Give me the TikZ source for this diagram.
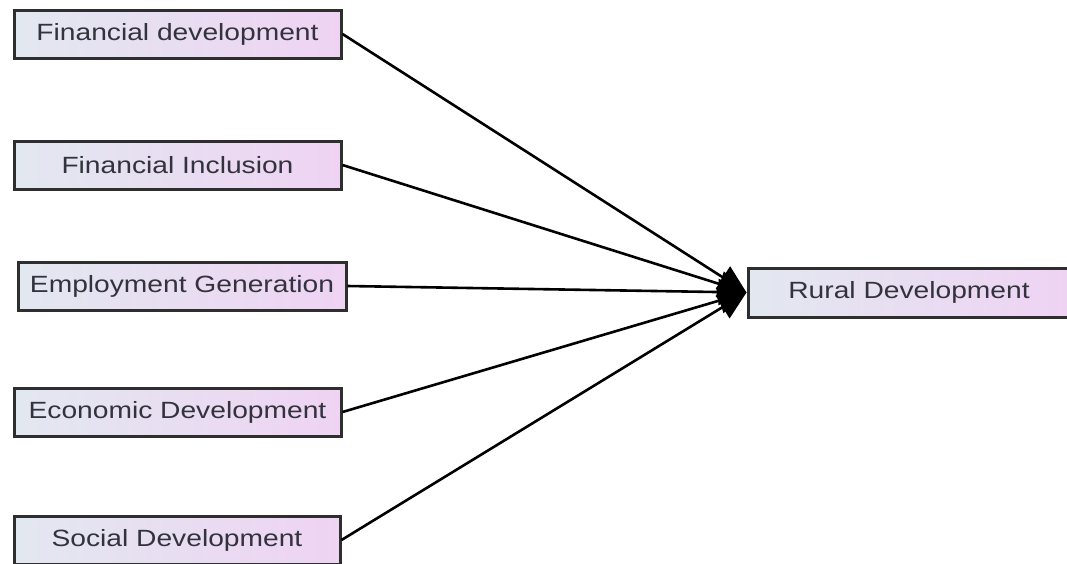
\documentclass[tikz,border=0pt]{standalone}
\usepackage{fontspec}
\usepackage{graphicx}
\setmainfont{Liberation Sans}
\usetikzlibrary{arrows.meta}
\definecolor{boxleft}{HTML}{E2E8F0}
\definecolor{boxright}{HTML}{EFD3F3}
\definecolor{boxline}{HTML}{2E2E2E}
\definecolor{txt}{HTML}{33333D}
\newcommand{\wtxt}[1]{\scalebox{1.2}[1]{#1}}
\tikzset{
  factor/.style={draw=boxline, line width=3pt, left color=boxleft, right color=boxright,
    minimum height=48pt, inner sep=0pt, text=txt, font=\fontsize{23.5}{26}\selectfont},
  link/.style={line width=2.6pt, draw=black, -{Triangle[length=28pt,width=26pt]}}
}
\begin{document}
\begin{tikzpicture}[x=1pt,y=-1pt]
\useasboundingbox (0,0) rectangle (1067,563);
\fill[white] (0,0) rectangle (1067,563);
\node[factor, minimum width=327pt] (fd) at (177.5,34) {\wtxt{Financial development}};
\node[factor, minimum width=327pt] (fi) at (177.5,165) {\wtxt{Financial Inclusion}};
\node[factor, minimum width=328pt] (eg) at (182,286) {\wtxt{Employment Generation}};
\node[factor, minimum width=327pt] (ed) at (177.5,412) {\wtxt{Economic Development}};
\node[factor, minimum width=326pt] (sd) at (177,540) {\wtxt{Social Development}};
\node[factor, minimum width=322pt, minimum height=49pt] (rd) at (909,292.5) {\wtxt{Rural Development}};
\draw[link] (fd.east) -- (rd.west);
\draw[link] (fi.east) -- (rd.west);
\draw[link] (eg.east) -- (rd.west);
\draw[link] (ed.east) -- (rd.west);
\draw[link] (sd.east) -- (rd.west);
\end{tikzpicture}
\end{document}
